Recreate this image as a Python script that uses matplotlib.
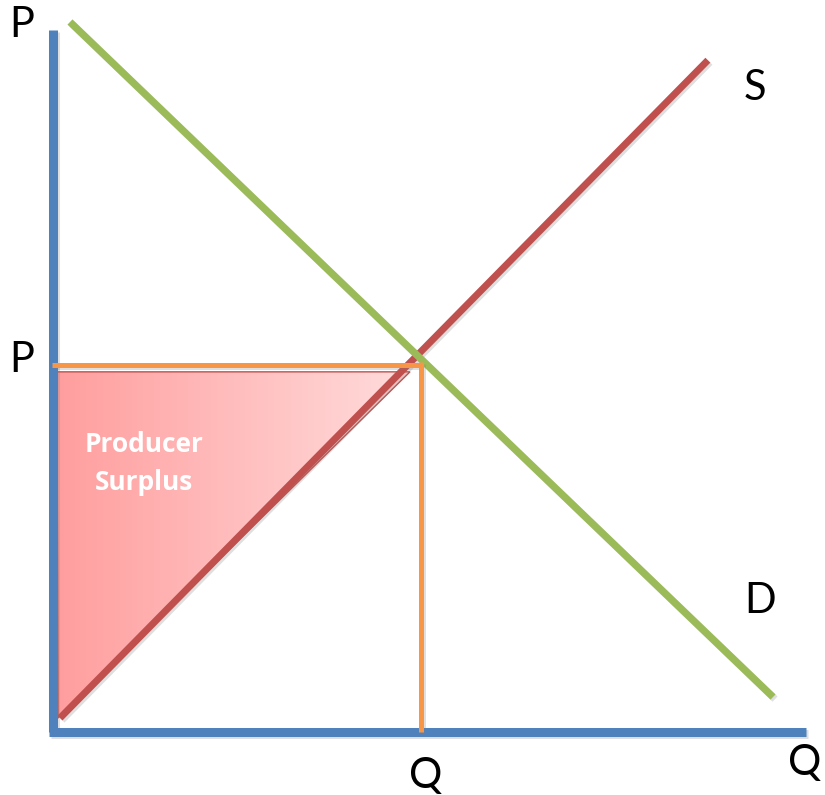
import numpy as np
import matplotlib
matplotlib.use("Agg")
import matplotlib.pyplot as plt
from matplotlib.patches import Polygon
from matplotlib.colors import LinearSegmentedColormap
import matplotlib.patheffects as pe

# ---- data (abstract P/Q units) ----
p_axis_top = 9.55
q_axis_end = 10.245
demand_q = [0.231, 9.796]
demand_p = [9.66, 0.476]
supply_q = [0.095, 8.91]
supply_p = [0.19, 9.14]
eq_q = 5.0
eq_p = 5.0
surplus_q = [0.054, 4.857, 0.068]
surplus_p = [4.90, 4.90, 0.19]

labels = ["P", "P", "S", "D", "Q", "Q"]
label_q = [-0.422, -0.422, 9.551, 9.619, 5.075, 10.22]
label_p = [9.456, 4.898, 8.599, 1.619, -0.762, -0.585]

surplus_lines = ["Producer", "Surplus"]
surplus_text_q = [1.238, 1.238]
surplus_text_p = [3.81, 3.29]

BLUE = "#4F81BD"
GREEN = "#9BBB59"
RED = "#C0504D"
ORANGE = "#F79646"

fig = plt.figure(figsize=(8.25, 7.95), dpi=100)
ax = fig.add_axes([0, 0, 1, 1])
ax.set_xlim(-53 / 73.5, (825 - 53) / 73.5)
ax.set_ylim((732 - 795) / 73.5, 732 / 73.5)
ax.axis("off")

shadow = [pe.SimpleLineShadow(offset=(1.5, -1.5), shadow_color="0.5", alpha=0.25), pe.Normal()]

# gradient-filled triangle
poly = Polygon(list(zip(surplus_q, surplus_p)), closed=True, facecolor="none",
               edgecolor=RED, lw=1.0, zorder=2)
ax.add_patch(poly)
cmap = LinearSegmentedColormap.from_list("pink", ["#FF9E9E", "#FFDCDC"])
grad = np.linspace(0, 1, 256).reshape(1, -1)
im = ax.imshow(grad, cmap=cmap, aspect="auto",
               extent=[min(surplus_q), max(surplus_q), min(surplus_p), max(surplus_p)],
               zorder=1.5)
im.set_clip_path(poly)

# supply
ax.plot(supply_q, supply_p, color=RED, lw=5, solid_capstyle="butt", zorder=3, path_effects=shadow)
# demand
ax.plot(demand_q, demand_p, color=GREEN, lw=5.2, solid_capstyle="butt", zorder=4, path_effects=shadow)

# axes
ax.plot([0, 0], [0, p_axis_top], color=BLUE, lw=6.5, solid_capstyle="butt", zorder=5, path_effects=shadow)
ax.plot([-0.06, q_axis_end], [0, 0], color=BLUE, lw=6.5, solid_capstyle="butt", zorder=5, path_effects=shadow)

# equilibrium guides
ax.plot([-0.01, eq_q], [eq_p, eq_p], color=ORANGE, lw=3.6, solid_capstyle="butt", zorder=6, path_effects=shadow)
ax.plot([eq_q, eq_q], [eq_p + 0.03, 0], color=ORANGE, lw=3.6, solid_capstyle="butt", zorder=6, path_effects=shadow)

for t, q, p in zip(labels, label_q, label_p):
    ax.text(q, p, t, fontsize=30, family="Lato", ha="center", va="baseline", color="black")

for t, q, p in zip(surplus_lines, surplus_text_q, surplus_text_p):
    ax.text(q, p, t, fontsize=19, family="Open Sans", fontweight="bold",
            ha="center", va="baseline", color="white", zorder=7)

fig.savefig("out.png", dpi=100)
